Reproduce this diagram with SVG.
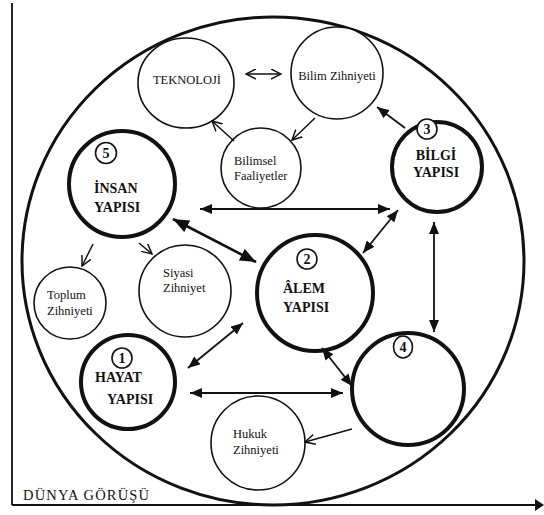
<svg xmlns="http://www.w3.org/2000/svg" width="544" height="515" viewBox="0 0 544 515" font-family="'Liberation Serif', 'DejaVu Serif', serif">
<style>
text { font-family: "Liberation Serif", "DejaVu Serif", serif; fill: #111; }
.big { font-size: 14px; font-weight: bold; }
.sm { font-size: 12.5px; }
.mid { text-anchor: middle; }
.num { font-size: 14px; font-weight: bold; text-anchor: middle; }
.thin { fill: #fff; stroke: #111; stroke-width: 1.6; }
.thick { fill: #fff; stroke: #111; stroke-width: 4; }
.ncirc { fill: #fff; stroke: #111; stroke-width: 1.6; }
.cf { stroke: #111; stroke-width: 1.8; fill: none; marker-start: url(#fh); marker-end: url(#fh); }
.co { stroke: #111; stroke-width: 1.5; fill: none; marker-end: url(#oh); }
</style>
<defs>
<marker id="fh" viewBox="0 0 12 10" refX="12" refY="5" markerWidth="12" markerHeight="10" markerUnits="userSpaceOnUse" orient="auto-start-reverse">
<path d="M0,0 L12,5 L0,10 z" fill="#111"/>
</marker>
<marker id="fhb" viewBox="0 0 16 13" refX="16" refY="6.5" markerWidth="16" markerHeight="13" markerUnits="userSpaceOnUse" orient="auto-start-reverse">
<path d="M0,0 L16,6.5 L0,13 z" fill="#111"/>
</marker>
<marker id="oh" viewBox="0 0 11 11" refX="10" refY="5.5" markerWidth="11" markerHeight="11" markerUnits="userSpaceOnUse" orient="auto-start-reverse">
<path d="M0,0.5 L10,5.5 L0,10.5" fill="none" stroke="#111" stroke-width="1.5"/>
</marker>
</defs>

<g id="axes">
<line x1="12" y1="3" x2="12" y2="505" stroke="#111" stroke-width="1.8"/>
<line x1="12" y1="505" x2="536" y2="505" stroke="#111" stroke-width="1.8"/>
<path d="M535,499 L544,505 L535,511 z" fill="#111"/>
<text x="23" y="500" font-size="14.5" textLength="126">DÜNYA GÖRÜŞÜ</text>
</g>

<g id="world">
<ellipse cx="273" cy="261" rx="251" ry="244" fill="none" stroke="#111" stroke-width="3"/>
</g>

<g id="teknoloji">
<ellipse class="thin" cx="186" cy="83" rx="48" ry="45"/>
<text class="sm mid" x="187" y="84">TEKNOLOJİ</text>
</g>

<g id="bilim-zihniyeti">
<circle class="thin" cx="337" cy="73" r="46"/>
<text class="sm mid" x="337" y="80">Bilim Zihniyeti</text>
</g>

<g id="bilimsel-faaliyetler">
<circle class="thin" cx="261" cy="168" r="40"/>
<text class="sm" x="234" y="165">Bilimsel</text>
<text class="sm" x="234" y="180">Faaliyetler</text>
</g>

<g id="bilgi-yapisi">
<circle class="thick" cx="437" cy="167" r="45"/>
<circle class="ncirc" cx="427" cy="129" r="10"/>
<text class="num" x="427" y="134">3</text>
<text class="big mid" x="436" y="160">BİLGİ</text>
<text class="big mid" x="436" y="177">YAPISI</text>
</g>

<g id="insan-yapisi">
<circle class="thick" cx="122" cy="184" r="53"/>
<circle class="ncirc" cx="106" cy="153" r="10.5"/>
<text class="num" x="106" y="158">5</text>
<text class="big" x="94" y="193">İNSAN</text>
<text class="big" x="94" y="212">YAPISI</text>
</g>

<g id="toplum-zihniyeti">
<circle class="thin" cx="70" cy="303" r="36"/>
<text class="sm" x="47" y="299">Toplum</text>
<text class="sm" x="47" y="315">Zihniyeti</text>
</g>

<g id="siyasi-zihniyet">
<circle class="thin" cx="185" cy="291" r="46"/>
<text class="sm" x="163" y="277">Siyasi</text>
<text class="sm" x="163" y="292">Zihniyet</text>
</g>

<g id="alem-yapisi">
<circle class="thick" cx="315" cy="293" r="58"/>
<circle class="ncirc" cx="307" cy="259" r="10"/>
<text class="num" x="307" y="264">2</text>
<text class="big" x="283" y="293">ÂLEM</text>
<text class="big" x="283" y="312">YAPISI</text>
</g>

<g id="hayat-yapisi">
<circle class="thick" cx="128" cy="382" r="47"/>
<circle class="ncirc" cx="122" cy="358" r="10"/>
<text class="num" x="122" y="363">1</text>
<text class="big" x="95" y="382">HAYAT</text>
<text class="big" x="107" y="404">YAPISI</text>
</g>

<g id="node-4">
<circle class="thick" cx="408" cy="389" r="56"/>
<ellipse class="ncirc" cx="403" cy="347" rx="9.5" ry="11"/>
<text class="num" x="403" y="352">4</text>
</g>

<g id="hukuk-zihniyeti">
<circle class="thin" cx="258" cy="443" r="47"/>
<text class="sm" x="233" y="438">Hukuk</text>
<text class="sm" x="233" y="454">Zihniyeti</text>
</g>

<g id="connectors">
<line x1="246" y1="74" x2="281" y2="74" stroke="#111" stroke-width="1.5" marker-start="url(#oh)" marker-end="url(#oh)"/>
<line class="co" x1="234" y1="141" x2="212" y2="121"/>
<line class="co" x1="315" y1="118" x2="292" y2="140"/>
<line x1="405" y1="128" x2="377" y2="107" stroke="#111" stroke-width="1.8" marker-end="url(#fh)"/>
<line class="cf" x1="200" y1="209" x2="390" y2="209"/>
<line x1="173" y1="219" x2="256" y2="262" stroke="#111" stroke-width="2.6" marker-start="url(#fhb)" marker-end="url(#fhb)"/>
<line class="cf" x1="363" y1="253" x2="398" y2="210"/>
<line class="cf" x1="434" y1="222" x2="434" y2="332"/>
<line class="co" x1="93" y1="244" x2="82" y2="266"/>
<line class="co" x1="139" y1="243" x2="152" y2="254"/>
<line class="cf" x1="188" y1="368" x2="243" y2="323"/>
<line class="cf" x1="190" y1="393" x2="343" y2="393"/>
<line class="cf" x1="322" y1="348" x2="352" y2="386"/>
<line class="co" x1="352" y1="429" x2="305" y2="442"/>
</g>
</svg>
